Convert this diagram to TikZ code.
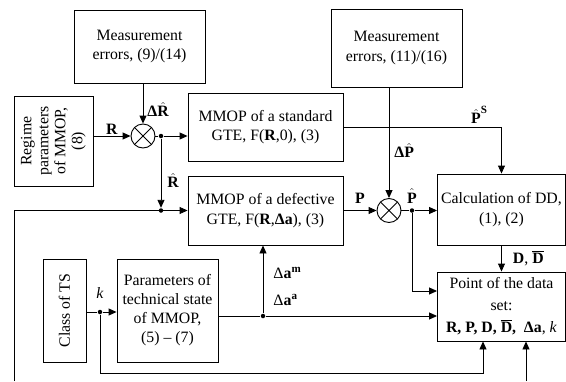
\documentclass[tikz,border=0pt]{standalone}
\usepackage{fontspec}
\usepackage{amsmath}
\setmainfont{Liberation Serif}
\usetikzlibrary{arrows.meta}
\newcommand{\bv}[1]{\mbox{\textbf{#1}}}

\begin{document}
\begin{tikzpicture}[x=1pt, y=-1pt, line width=0.9pt, >={Triangle[length=8pt,width=7pt]},
    box/.style={draw, align=center, inner sep=0pt, font=\fontsize{15.8}{19.5}\selectfont},
    sumnode/.style={circle, draw, minimum size=24pt, inner sep=0pt,
      path picture={\draw (path picture bounding box.north west) -- (path picture bounding box.south east)
        (path picture bounding box.north east) -- (path picture bounding box.south west);}},
    dot/.style={circle, fill, inner sep=0pt, minimum size=4.5pt},
    lbl/.style={font=\fontsize{15.8}{19.5}\selectfont, inner sep=1pt}]
    \useasboundingbox (0,0) rectangle (566,381);

    % Bloques
    \node[box, minimum width=131, minimum height=73] (meas1) at (139.5,46.5) {Measurement\\errors, (9)/(14)};
    \node[box, minimum width=131, minimum height=78] (meas2) at (396.5,48) {Measurement\\errors, (11)/(16)};
    \node[box, minimum width=79, minimum height=90] (regime) at (53.5,141)
        {\rotatebox{90}{\fontsize{15.8}{17}\selectfont\begin{tabular}{@{}c@{}}Regime\\parameters\\of MMOP,\\(8)\end{tabular}}};
    \node[box, minimum width=155, minimum height=68] (standard) at (265.5,127) {MMOP of a standard\\GTE, F(\bv{R},0), (3)};
    \node[box, minimum width=155, minimum height=69] (defective) at (265.5,210.5) {MMOP of a defective\\GTE, F(\bv{R},\bv{Δa}), (3)};
    \node[box, minimum width=128, minimum height=71] (calc) at (501.5,209.5) {Calculation of DD,\\(1), (2)};
    \node[box, minimum width=128, minimum height=69, font=\fontsize{15.8}{22}\selectfont] (data) at (501.5,306.5)
        {Point of the data\\set:\\\textbf{R, P, D, }$\overline{\bv{D}}$\textbf{,}\ \ \bv{Δa}, \textit{k}};
    \node[box, minimum width=43, minimum height=103] (class) at (64.5,310.5) {\rotatebox{90}{Class of TS}};
    \node[box, minimum width=101, minimum height=103, font=\fontsize{15.8}{19}\selectfont] (params) at (167.5,310.5)
        {Parameters of\\technical state\\of MMOP,\\(5) -- (7)};

    % Sumadores y nodos
    \node[sumnode] (s1) at (143,136) {};
    \node[sumnode] (s2) at (389,210.5) {};
    \node[dot] (j1) at (161,136) {};
    \node[dot] (j5) at (j1 |- defective.west) {};
    \node[dot] (j2) at (412,210.5) {};
    \node[dot] (j3) at (100,312) {};
    \node[dot] (j4) at (263,316) {};
    \coordinate (fb) at (14,381);
    \coordinate (kb) at (483,373);
    \coordinate (inb) at (526,381);

    % Entradas del primer sumador
    \draw[->] (regime.east |- s1) -- (s1.west) node[lbl, midway, above] (lr) {\bv{R}};
    \draw[->] (s1 |- meas1.south) -- (s1.north) node[lbl, pos=0.65, right=3pt] (ldr) {$\bv{Δ}\hat{\bv{R}}$};
    \draw (s1.east) -- (j1);
    \draw[->] (j1) -- (standard.west |- j1);
    \draw[->] (j1) -- (j5) node[lbl, pos=0.6, right=5pt] (lrh) {$\hat{\bv{R}}$};

    % Realimentacion
    \draw[->] (fb) |- (defective.west);

    % Segundo sumador
    \draw[->] (defective.east) -- (s2.west) node[lbl, midway, above=6pt] (lp) {\bv{P}};
    \draw[->] (s2 |- meas2.south) -- (s2.north) node[lbl, pos=0.57, right=4pt] (ldp) {$\bv{Δ}\hat{\bv{P}}$};
    \draw[->] (standard.east) -| (calc.north) node[lbl, pos=0.43, above=2pt] (lps) {$\hat{\bv{P}}^{\text{\textbf{S}}}$};
    \draw (s2.east) -- (j2);
    \node[lbl, above=6pt] (lph) at (j2) {$\hat{\bv{P}}$};
    \draw[->] (j2) -- (calc.west |- j2);
    \draw[->] (j2) |- ([yshift=15.5pt]data.west);
    \draw[->] (calc.south) -- (data.north) node[lbl, midway, right=10pt] (ld) {\bv{D}, $\overline{\bv{D}}$};

    % Estado tecnico
    \draw (class.east |- j3) -- (j3);
    \draw[->] (j3) -- (params.west |- j3);
    \node[lbl, above=12pt] (lk) at (j3) {\textit{k}};
    \draw (params.east |- j4) -- (j4);
    \draw[->] (j4) -- ([yshift=-9.5pt]data.west);
    \draw[->] (j4) -- (defective.south -| j4);
    \node[lbl, anchor=west] (lam) at (272,273) {Δ\bv{a}$^{\text{\textbf{m}}}$};
    \node[lbl, anchor=west] (laa) at (272,300) {Δ\bv{a}$^{\text{\textbf{a}}}$};
    \draw[->] (j3) |- (kb) -- (kb |- data.south);
    \draw[->] (inb) -- (inb |- data.south);
\end{tikzpicture}
\end{document}
